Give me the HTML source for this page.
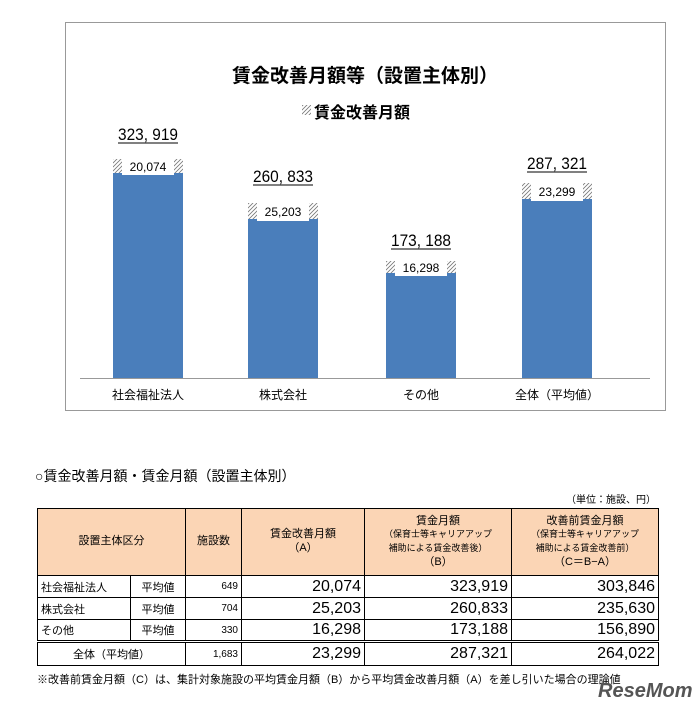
<!DOCTYPE html>
<html><head><meta charset="utf-8"><style>
body{margin:0;background:#fff;width:699px;height:708px;overflow:hidden;font-family:"Liberation Sans","Noto Sans CJK JP",sans-serif;}
table{border-collapse:collapse;position:absolute;left:37px;top:508px;width:621px;font-size:11px;table-layout:fixed;}
td{border:1px solid #000;padding:0 3px;overflow:hidden;white-space:nowrap;}
.h td{background:#fbd5b5;text-align:center;height:66px;line-height:1.25;}
.s{font-size:9px;}
.n{text-align:right;font-size:16px;}
.c{text-align:right;font-size:10px;}
</style></head><body>
<svg width="699" height="520" style="position:absolute;left:0;top:0" font-family="Liberation Sans, Noto Sans CJK JP, sans-serif">
<defs><pattern id="h" width="4" height="4" patternUnits="userSpaceOnUse"><path d="M-1,5 L5,-1 M-1,1 L1,-1 M3,5 L5,3" stroke="#777" stroke-width="0.8"/></pattern></defs>
<rect x="65.5" y="22.5" width="600" height="388" fill="#fff" stroke="#999"/>
<text x="365" y="82" text-anchor="middle" font-size="19" font-weight="bold">賃金改善月額等（設置主体別）</text>
<rect x="302" y="105" width="9" height="10" fill="url(#h)"/>
<text x="314" y="118" font-size="16" font-weight="bold">賃金改善月額</text>
<line x1="80" y1="378.5" x2="650" y2="378.5" stroke="#999"/>
<g font-size="12">
<rect x="113" y="159" width="70" height="14" fill="url(#h)"/><rect x="113" y="173" width="70" height="205" fill="#4a7ebb"/><rect x="122" y="158" width="52" height="17" fill="#fff"/><text x="148" y="171" text-anchor="middle">20,074</text>
<rect x="248" y="203" width="70" height="16" fill="url(#h)"/><rect x="248" y="219" width="70" height="159" fill="#4a7ebb"/><rect x="257" y="202" width="52" height="19" fill="#fff"/><text x="283" y="216" text-anchor="middle">25,203</text>
<rect x="386" y="261" width="70" height="12" fill="url(#h)"/><rect x="386" y="273" width="70" height="105" fill="#4a7ebb"/><rect x="395" y="260" width="52" height="16" fill="#fff"/><text x="421" y="272" text-anchor="middle">16,298</text>
<rect x="522" y="183" width="70" height="16" fill="url(#h)"/><rect x="522" y="199" width="70" height="179" fill="#4a7ebb"/><rect x="531" y="182" width="52" height="19" fill="#fff"/><text x="557" y="196" text-anchor="middle">23,299</text>
</g>
<g font-size="17" text-anchor="middle">
<text x="148" y="140" textLength="60" lengthAdjust="spacingAndGlyphs">323, 919</text><line x1="118" y1="143" x2="178" y2="143" stroke="#000"/>
<text x="283" y="182" textLength="60" lengthAdjust="spacingAndGlyphs">260, 833</text><line x1="253" y1="185" x2="313" y2="185" stroke="#000"/>
<text x="421" y="246" textLength="60" lengthAdjust="spacingAndGlyphs">173, 188</text><line x1="391" y1="249" x2="451" y2="249" stroke="#000"/>
<text x="557" y="169" textLength="60" lengthAdjust="spacingAndGlyphs">287, 321</text><line x1="527" y1="172" x2="587" y2="172" stroke="#000"/>
</g>
<g font-size="12" text-anchor="middle">
<text x="148" y="399">社会福祉法人</text><text x="283" y="399">株式会社</text><text x="421" y="399">その他</text><text x="557" y="399">全体（平均値）</text>
</g>
<text x="35" y="481" font-size="14">○賃金改善月額・賃金月額（設置主体別）</text>
<text x="656" y="503" font-size="10" text-anchor="end">（単位：施設、円）</text>
</svg>
<table>
<colgroup><col style="width:93px"><col style="width:55px"><col style="width:56px"><col style="width:123px"><col style="width:147px"><col style="width:147px"></colgroup>
<tr class="h"><td colspan="2">設置主体区分</td><td>施設数</td><td>賃金改善月額<br>（A）</td><td>賃金月額<br><span class="s">（保育士等キャリアアップ<br>補助による賃金改善後）</span><br>（B）</td><td>改善前賃金月額<br><span class="s">（保育士等キャリアアップ<br>補助による賃金改善前）</span><br>（C＝B−A）</td></tr>
<tr style="height:22px"><td>社会福祉法人</td><td style="text-align:center">平均値</td><td class="c">649</td><td class="n">20,074</td><td class="n">323,919</td><td class="n">303,846</td></tr>
<tr style="height:22px"><td>株式会社</td><td style="text-align:center">平均値</td><td class="c">704</td><td class="n">25,203</td><td class="n">260,833</td><td class="n">235,630</td></tr>
<tr style="height:22px"><td>その他</td><td style="text-align:center">平均値</td><td class="c">330</td><td class="n">16,298</td><td class="n">173,188</td><td class="n">156,890</td></tr>
<tr style="height:24px;border-top:3px double #000"><td colspan="2" style="text-align:center">全体（平均値）</td><td class="c">1,683</td><td class="n">23,299</td><td class="n">287,321</td><td class="n">264,022</td></tr>
</table>
<div style="position:absolute;left:37px;top:671px;font-size:11px;white-space:nowrap">※改善前賃金月額（C）は、集計対象施設の平均賃金月額（B）から平均賃金改善月額（A）を差し引いた場合の理論値</div>
<div style="position:absolute;left:598px;top:680px;font-size:20px;font-weight:bold;color:#555;font-style:italic">ReseMom</div>
</body></html>
